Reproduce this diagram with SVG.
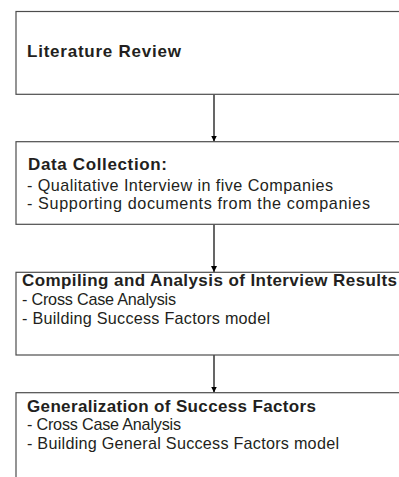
<svg xmlns="http://www.w3.org/2000/svg" width="399" height="477" viewBox="0 0 399 477">
  <style>
    .box { fill: #ffffff; stroke: #4d4d4d; stroke-width: 1.2; }
    .title { font-family: "Liberation Sans", Arial, sans-serif; font-weight: bold; font-size: 17px; fill: #231f20; }
    .item { font-family: "Liberation Sans", Arial, sans-serif; font-size: 16.2px; fill: #231f20; }
    .link { stroke: #000000; stroke-width: 1.2; fill: none; marker-end: url(#arrow); }
  </style>
  <defs>
    <!-- small filled triangle at the end of each connector -->
    <marker id="arrow" viewBox="0 0 6 6" refX="6" refY="3" markerWidth="6" markerHeight="6" markerUnits="userSpaceOnUse" orient="auto">
      <path d="M0,0 L6,3 L0,6 Z" fill="#000000"/>
    </marker>
  </defs>
  <rect width="399" height="477" fill="#ffffff"/>

  <g id="connectors">
    <line class="link" x1="214" y1="94.5" x2="214" y2="141.5"/>
    <line class="link" x1="214" y1="224.5" x2="214" y2="272"/>
    <line class="link" x1="214" y1="355" x2="214" y2="392.5"/>
  </g>

  <g id="literature-review">
    <rect class="box" x="16" y="11.5" width="400" height="82.8"/>
    <text class="title" x="27" y="57" textLength="154">Literature Review</text>
  </g>

  <g id="data-collection">
    <rect class="box" x="16" y="141.7" width="400" height="82.6"/>
    <text class="title" x="28" y="170" textLength="139">Data Collection:</text>
    <text class="item" x="27" y="190.5" textLength="306">- Qualitative Interview in five Companies</text>
    <text class="item" x="27" y="209" textLength="343">- Supporting documents from the companies</text>
  </g>

  <g id="compiling-analysis">
    <rect class="box" x="16" y="272.3" width="400" height="82.7"/>
    <text class="title" x="22" y="285.7" textLength="375">Compiling and Analysis of Interview Results</text>
    <text class="item" x="22" y="305" textLength="154">- Cross Case Analysis</text>
    <text class="item" x="22" y="323.5" textLength="248">- Building Success Factors model</text>
  </g>

  <g id="generalization">
    <rect class="box" x="16" y="392.7" width="400" height="100"/>
    <text class="title" x="27" y="411.5" textLength="289">Generalization of Success Factors</text>
    <text class="item" x="27" y="430" textLength="154">- Cross Case Analysis</text>
    <text class="item" x="27" y="448.5" textLength="312">- Building General Success Factors model</text>
  </g>
</svg>
